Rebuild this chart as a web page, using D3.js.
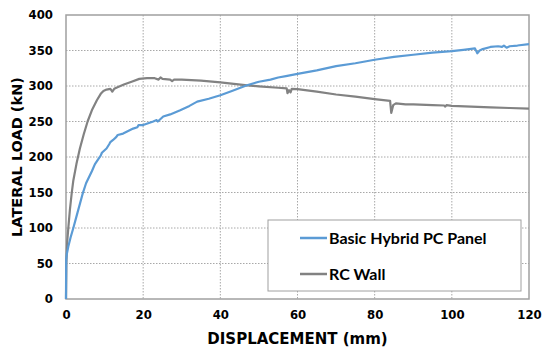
<!DOCTYPE html>
<html>
<head>
<meta charset="utf-8">
<script src="https://cdn.jsdelivr.net/npm/d3@7/dist/d3.min.js"></script>
<style>
  body { margin: 0; background: #fff; }
  svg { display: block; }
  .tick text { font-family: "DejaVu Sans", sans-serif; font-weight: bold; font-size: 11.7px; fill: #000; }
</style>
</head>
<body>
<svg class="canvas" width="542" height="349"></svg>
<script>
// displacement (mm) / lateral load (kN)
var panelDisp = [0, 0.05, 0.2, 0.6, 1.2, 1.9, 3, 4.3, 5.2, 6.7, 7.5, 8.5, 9, 9.3, 10.5, 11.2, 11.5, 12.2, 13, 13.4, 14.8, 17.4, 18.5, 18.8, 20, 22.6, 23.5, 23.8, 25.2, 27, 29.6, 32, 34, 37, 40, 43, 46.9, 50, 53, 55, 57, 58, 60, 65, 70, 75, 80, 85, 90, 95, 100, 103, 106, 106.6, 107.2, 108, 110, 112, 113, 113.5, 114.2, 115, 117, 120];
var panelLoad = [0, 56, 63, 74, 87, 100, 122, 148, 163, 180, 190, 198, 202, 206, 212, 218, 221, 224, 228, 231, 233, 240, 242, 245, 245, 250, 252, 250, 257, 260, 266, 272, 278, 282, 287, 293, 301, 306, 309, 312, 314, 315, 317, 322, 328, 332, 337, 341, 344, 347, 349, 351, 353, 346, 350, 352, 355, 356, 355, 357, 354, 356, 357, 359];

var wallDisp = [0, 0.1, 0.3, 0.6, 1, 1.5, 1.9, 2.7, 3.6, 4.6, 5.6, 6.8, 8, 9, 9.7, 10.5, 11.5, 12, 12.5, 13.2, 15, 17, 19, 21, 23, 24, 24.5, 25, 27, 27.5, 28, 30, 35, 40, 47, 50, 55, 57.2, 57.4, 57.8, 58.2, 58.5, 60, 65, 70, 75, 80, 84, 84.3, 84.8, 85.5, 88, 90, 95, 98, 98.3, 98.6, 100, 105, 110, 115, 120];
var wallLoad = [0, 50, 80, 100, 125, 150, 167, 190, 212, 232, 250, 267, 280, 289, 293, 295, 296, 292, 296, 298, 302, 306, 310, 311, 311, 309, 312, 310, 309, 307, 309, 309, 307.5, 305, 301, 299.5, 297.5, 296.7, 290, 294, 291, 296, 295.6, 292, 288, 285, 281.5, 279, 262, 273, 275.5, 274, 274, 273, 272.5, 271, 273, 272, 271, 270, 269, 268];

var seriesNames = ["Basic Hybrid PC Panel", "RC Wall"];
var seriesColors = ["#5b9bd5", "#828282"];
var xTicks = [0, 20, 40, 60, 80, 100, 120];
var yTicks = [0, 50, 100, 150, 200, 250, 300, 350, 400];

var svg = d3.select('.canvas');
var margin = {left: 66, top: 15, right: 13, bottom: 50};
var w = 542 - margin.left - margin.right;
var h = 349 - margin.top - margin.bottom;

var x = d3.scaleLinear().domain([0, 120]).range([0, w]);
var y = d3.scaleLinear().domain([0, 400]).range([h, 0]);

var g = svg.append('g').attr('transform', "translate(" + margin.left + "," + margin.top + ")");

// grid
g.append('g').selectAll('line').data(xTicks.slice(1, -1)).enter().append('line')
	.attr('x1', function(d){ return x(d); }).attr('x2', function(d){ return x(d); })
	.attr('y1', 0).attr('y2', h)
	.attr('stroke', '#a8a8a8').attr('stroke-dasharray', '1.5,1.5');
g.append('g').selectAll('line').data(yTicks.slice(1, -1)).enter().append('line')
	.attr('y1', function(d){ return y(d); }).attr('y2', function(d){ return y(d); })
	.attr('x1', 0).attr('x2', w)
	.attr('stroke', '#a8a8a8').attr('stroke-dasharray', '1.5,1.5');

// frame
g.append('rect').attr('width', w).attr('height', h)
	.attr('fill', 'none').attr('stroke', '#a0a0a0').attr('stroke-width', 1.5);

// axes
var xAxis = g.append('g').attr('transform', "translate(0," + h + ")")
	.call(d3.axisBottom(x).tickValues(xTicks).tickSize(0).tickPadding(12));
var yAxis = g.append('g')
	.call(d3.axisLeft(y).tickValues(yTicks).tickSize(0).tickPadding(13));
xAxis.select('.domain').remove();
yAxis.select('.domain').remove();

// lines
var line = d3.line().x(function(d){ return x(d[0]); }).y(function(d){ return y(d[1]); });
var series = [d3.zip(panelDisp, panelLoad), d3.zip(wallDisp, wallLoad)];
g.selectAll('path.series').data(series.slice().reverse()).enter().append('path')
	.attr('class', 'series')
	.attr('d', line)
	.attr('fill', 'none')
	.attr('stroke-width', 2.2)
	.attr('stroke-linejoin', 'round')
	.attr('stroke', function(d, i){ return seriesColors[1 - i]; });

// axis titles
svg.append('text')
	.attr('x', margin.left + w / 2).attr('y', 344)
	.attr('text-anchor', 'middle')
	.style('font-family', '"DejaVu Sans", sans-serif').style('font-weight', 'bold').style('font-size', '15px')
	.text('DISPLACEMENT (mm)');
svg.append('text')
	.attr('transform', "translate(22," + (margin.top + h / 2) + ") rotate(-90)")
	.attr('text-anchor', 'middle')
	.style('font-family', '"DejaVu Sans", sans-serif').style('font-weight', 'bold').style('font-size', '14.5px')
	.text('LATERAL LOAD (kN)');

// legend
var legend = svg.append('g').attr('transform', "translate(268,220)");
legend.append('rect').attr('width', 253).attr('height', 71)
	.attr('fill', '#fff').attr('stroke', '#a0a0a0').attr('stroke-width', 1);
var items = legend.selectAll('g.item').data(seriesNames).enter().append('g')
	.attr('class', 'item')
	.attr('transform', function(d, i){ return "translate(0," + (18 + i * 36) + ")"; });
items.append('line').attr('x1', 32).attr('x2', 59)
	.attr('stroke', function(d, i){ return seriesColors[i]; }).attr('stroke-width', 2.5);
items.append('text').attr('x', 61).attr('y', 5.5)
	.style('font-family', 'Lato, sans-serif').style('font-weight', 'bold').style('font-size', '16px')
	.text(function(d){ return d; });
</script>
</body>
</html>
